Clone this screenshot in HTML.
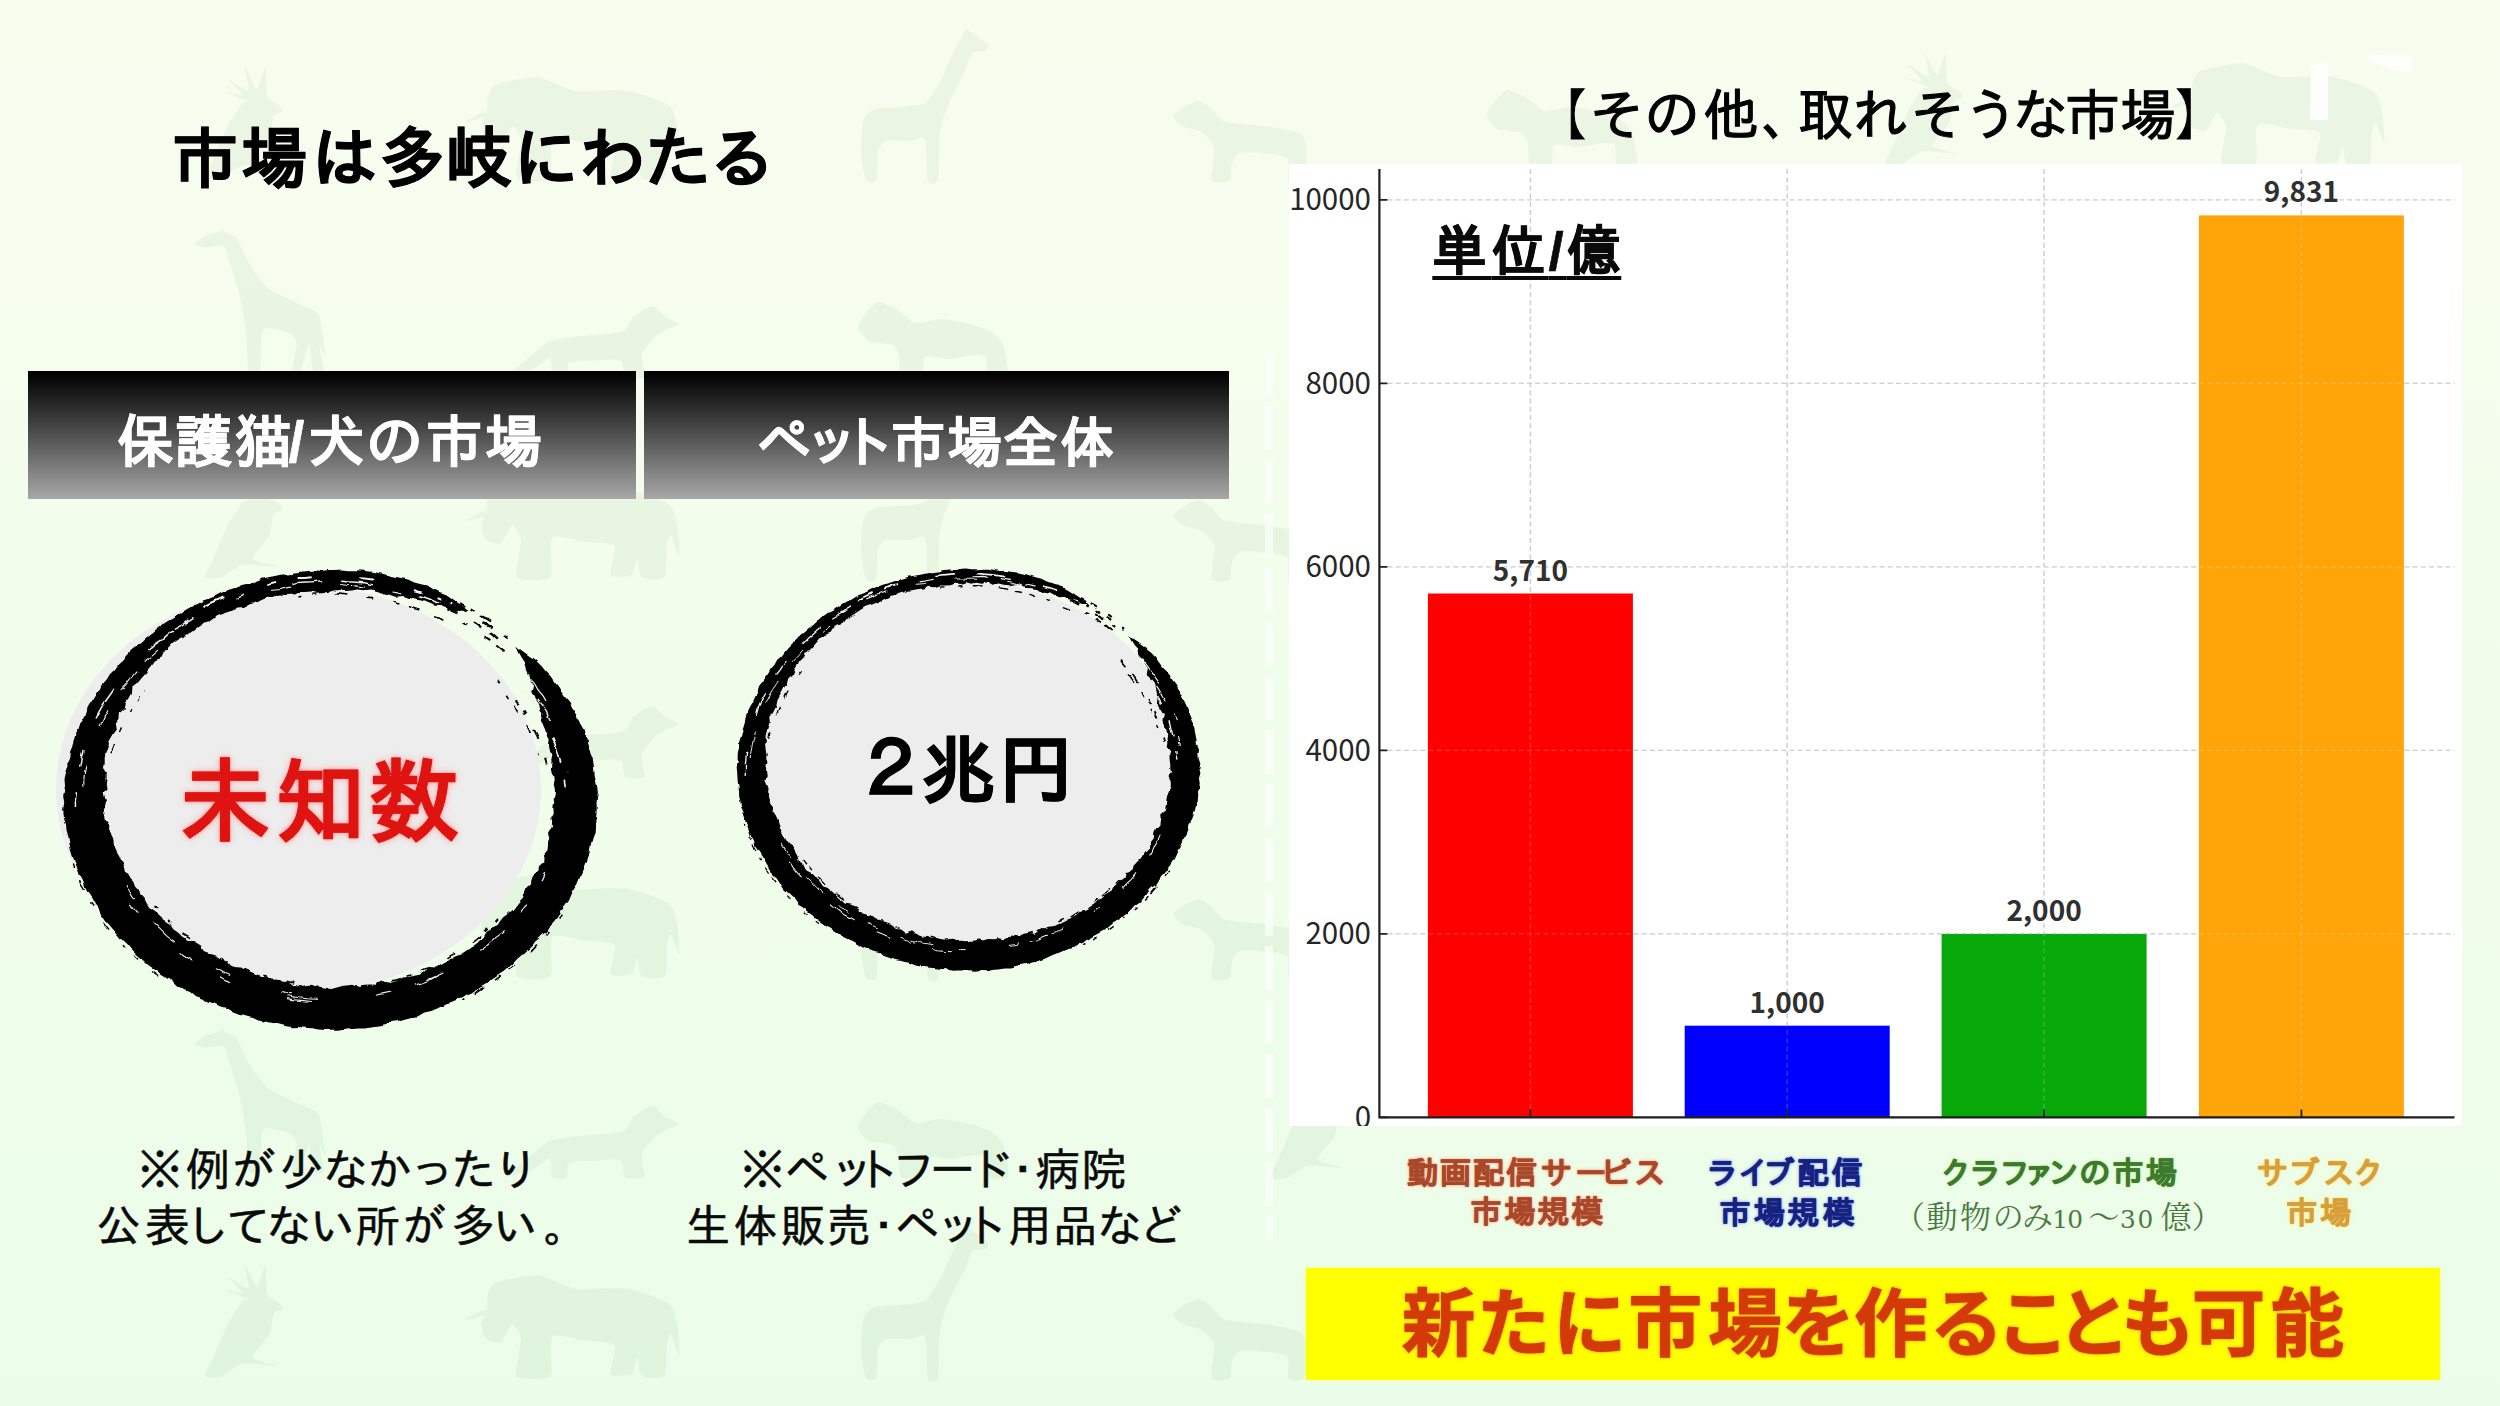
<!DOCTYPE html>
<html lang="ja">
<head>
<meta charset="utf-8">
<title>市場は多岐にわたる</title>
<style>
*{margin:0;padding:0;box-sizing:border-box}
html,body{width:2500px;height:1406px;overflow:hidden}
body{position:relative;background:linear-gradient(180deg,#f8fdee 0%,#f6fdee 18%,#f1fdeb 50%,#edfde9 78%,#ebfde8 100%);font-family:"Liberation Sans","Noto Sans CJK JP",sans-serif;color:#000}
.abs{position:absolute;white-space:nowrap;line-height:1}
.g{font-family:"Liberation Sans","IPAGothic","Noto Sans CJK JP",sans-serif}
.n{font-family:"Liberation Sans","Noto Sans CJK JP",sans-serif}
.s{font-family:"Liberation Serif","Noto Serif CJK JP","Noto Serif CJK SC",serif}
.b{font-weight:bold}
.hbar{position:absolute;top:371px;height:128px;background:linear-gradient(180deg,#000 0%,#090909 7%,#474747 45%,#a8a8a8 100%)}
#hb1{left:28px;width:608px}
#hb2{left:644px;width:585px}
.fill{position:absolute;border-radius:50%;background:#ededed}
#chart{position:absolute;left:1289px;top:164px;width:1173px;height:962px;background:#fff;overflow:hidden}
#chart svg{position:absolute;left:0;top:0}
#banner{position:absolute;left:1306px;top:1268px;width:1134px;height:112px;background:#ffff00;box-shadow:0 0 3px #ffff66}
#bgsvg,#ringsvg{position:absolute;left:0;top:0}
</style>
</head>
<body>
<svg id="bgsvg" width="2500" height="1406" viewBox="0 0 2500 1406">
<defs>
<path id="a-ele" d="M31.2 -95.4C36.5 -97.5 64.3 -103.3 72.8 -102.7C81.2 -102.0 100.7 -90.6 110.2 -89.2C119.7 -87.7 152.2 -90.7 162.2 -89.2C172.2 -87.6 198.5 -78.4 203.8 -74.6C209.1 -70.8 211.0 -59.3 212.1 -53.8C213.2 -48.3 214.9 -23.7 214.2 -22.6C213.5 -21.5 207.2 -42.3 205.9 -43.4C204.5 -44.5 202.4 -37.4 201.7 -33.0C201.1 -28.6 202.3 -5.1 199.6 -1.8C197.0 1.5 179.6 0.2 176.8 -1.8C173.9 -3.8 173.7 -20.3 172.6 -20.5C171.5 -20.7 169.2 -5.7 166.4 -3.9C163.5 -2.1 147.3 -0.8 145.6 -3.9C143.8 -7.0 152.4 -29.5 149.7 -33.0C147.1 -36.6 127.3 -36.3 120.6 -37.2C113.9 -38.0 91.1 -45.1 87.3 -41.3C83.5 -37.5 89.0 -6.0 85.2 -1.8C81.5 2.4 55.1 2.2 52.0 -1.8C48.9 -5.8 56.6 -33.7 56.1 -39.2C55.7 -44.8 49.4 -53.1 47.8 -53.8C46.2 -54.5 42.9 -47.5 41.6 -45.5C40.2 -43.5 37.5 -35.7 35.3 -35.1C33.1 -34.4 22.8 -37.2 20.8 -39.2C18.8 -41.2 16.6 -50.7 16.6 -53.8C16.6 -56.9 22.5 -67.9 20.8 -68.4C19.0 -68.8 -0.0 -58.4 -0.0 -58.0C-0.0 -57.5 18.3 -61.5 20.8 -64.2C23.2 -66.9 21.7 -79.6 22.8 -82.9C23.9 -86.2 25.8 -93.3 31.2 -95.4Z"/>
<path id="a-bird" d="M43.6 -78.8C41.4 -80.1 17.3 -88.5 16.6 -89.2C15.9 -89.8 36.7 -83.7 37.4 -85.0C38.1 -86.3 22.2 -101.2 22.8 -101.6C23.5 -102.1 41.9 -87.8 43.6 -89.2C45.4 -90.5 38.6 -113.9 39.5 -114.1C40.4 -114.3 49.7 -91.5 52.0 -91.2C54.2 -91.0 59.2 -112.9 60.3 -112.0C61.4 -111.2 60.8 -86.9 62.4 -82.9C63.9 -78.9 73.3 -76.2 74.8 -74.6C76.4 -73.0 77.6 -69.5 76.9 -68.4C76.3 -67.3 69.9 -66.9 68.6 -64.2C67.3 -61.5 66.7 -48.1 64.4 -43.4C62.2 -38.7 46.9 -23.8 47.8 -20.5C48.7 -17.2 73.9 -12.9 72.8 -12.2C71.7 -11.5 43.4 -15.4 37.4 -14.3C31.4 -13.2 20.6 -3.1 16.6 -1.8C12.6 -0.5 0.8 0.2 -0.0 -1.8C-0.9 -3.8 5.8 -15.0 8.3 -20.5C10.7 -26.1 19.7 -47.8 22.8 -53.8C25.9 -59.8 35.2 -74.0 37.4 -76.7C39.6 -79.3 45.9 -77.4 43.6 -78.8Z"/>
<path id="a-girB" d="M0.6 -126.7C0.3 -127.9 8.3 -133.7 11.0 -135.0C13.6 -136.4 23.7 -138.3 25.5 -139.2C27.3 -140.1 27.0 -143.4 27.6 -143.4C28.2 -143.4 29.2 -140.3 30.7 -139.2C32.3 -138.1 39.6 -136.3 42.2 -133.0C44.7 -129.6 51.3 -113.3 54.6 -108.0C58.0 -102.7 68.7 -87.0 73.4 -83.0C78.0 -79.0 93.0 -73.2 98.3 -70.6C103.6 -67.9 120.2 -61.0 123.3 -58.1C126.4 -55.2 126.6 -48.2 127.4 -43.5C128.3 -38.9 131.8 -16.2 131.6 -14.4C131.4 -12.6 125.6 -28.4 125.4 -26.9C125.1 -25.3 130.2 -2.7 129.5 0.2C128.9 3.0 120.7 3.0 119.1 0.2C117.6 -2.7 116.3 -26.9 115.0 -26.9C113.6 -26.9 108.4 -2.7 106.6 0.2C104.9 3.0 98.8 3.0 98.3 0.2C97.9 -2.7 102.7 -22.9 102.5 -26.9C102.3 -30.9 99.8 -35.7 96.2 -37.3C92.7 -38.8 72.4 -45.4 69.2 -41.4C66.0 -37.4 67.6 -4.3 66.1 0.2C64.5 4.6 56.1 3.9 54.6 0.2C53.2 -3.6 53.4 -27.4 52.6 -35.2C51.7 -43.0 48.1 -64.9 46.3 -72.6C44.5 -80.4 37.7 -102.5 35.9 -108.0C34.1 -113.5 32.1 -123.0 29.7 -124.6C27.2 -126.3 16.1 -123.4 13.0 -123.6C9.9 -123.8 0.8 -125.5 0.6 -126.7Z"/>
<path id="a-dog" d="M175.2 -52.9C175.0 -54.2 163.3 -58.3 160.6 -60.2C158.0 -62.0 152.2 -69.7 150.2 -70.6C148.2 -71.4 144.1 -69.6 141.9 -68.5C139.7 -67.4 131.9 -62.6 129.4 -60.2C127.0 -57.7 124.1 -47.6 119.0 -45.6C113.9 -43.6 88.9 -42.3 81.6 -41.4C74.3 -40.6 55.1 -38.4 50.4 -37.3C45.7 -36.2 41.2 -33.5 37.9 -31.0C34.6 -28.6 23.2 -17.7 19.2 -14.4C15.2 -11.1 -0.6 -0.5 0.5 0.2C1.6 0.8 24.7 -6.2 29.6 -8.2C34.5 -10.2 44.2 -19.4 46.2 -18.6C48.2 -17.7 46.5 -1.8 48.3 0.2C50.1 2.2 61.1 1.7 62.9 0.2C64.7 -1.4 61.9 -12.6 65.0 -14.4C68.1 -16.2 86.5 -16.3 92.0 -16.5C97.5 -16.7 113.9 -18.3 117.0 -16.5C120.1 -14.7 118.7 -1.6 121.1 0.2C123.6 1.9 138.1 2.6 139.8 0.2C141.6 -2.3 136.6 -18.5 137.8 -22.7C138.9 -26.9 147.6 -36.7 150.2 -39.4C152.9 -42.0 160.1 -46.2 162.7 -47.7C165.4 -49.1 175.4 -51.5 175.2 -52.9Z"/>
<path id="a-lion" d="M0.0 -50.0C-0.2 -53.0 6.0 -61.3 8.0 -64.0C10.0 -66.7 16.8 -74.1 19.0 -75.0C21.2 -75.9 26.9 -72.7 29.0 -72.0C31.1 -71.3 36.0 -69.9 39.0 -68.0C42.0 -66.1 52.4 -55.1 57.0 -54.0C61.6 -52.9 76.7 -58.0 82.0 -58.0C87.3 -58.0 101.7 -55.3 107.0 -54.0C112.3 -52.7 127.9 -48.3 132.0 -46.0C136.1 -43.7 143.1 -36.9 145.0 -32.0C146.9 -27.1 151.6 -3.4 150.0 0.0C148.4 3.4 132.3 2.1 130.0 0.0C127.7 -2.1 129.4 -17.7 128.0 -20.0C126.6 -22.3 120.8 -22.2 117.0 -22.0C113.2 -21.8 97.3 -18.2 92.0 -18.0C86.7 -17.8 70.0 -21.9 67.0 -20.0C64.0 -18.1 66.6 -2.1 64.0 0.0C61.4 2.1 45.5 2.3 43.0 0.0C40.5 -2.3 41.9 -18.6 41.0 -22.0C40.1 -25.4 37.0 -30.7 35.0 -32.0C33.0 -33.3 24.7 -33.6 22.0 -34.0C19.3 -34.4 12.3 -34.3 10.0 -36.0C7.7 -37.7 0.2 -47.0 0.0 -50.0Z"/>
<path id="a-hy" d="M0.3 -63.6C0.6 -65.8 10.4 -72.2 13.1 -73.9C15.8 -75.5 23.2 -79.3 25.9 -79.0C28.6 -78.7 36.0 -73.5 38.7 -71.3C41.4 -69.1 45.5 -60.4 51.5 -58.5C57.5 -56.6 86.8 -54.7 95.0 -53.4C103.2 -52.0 124.2 -48.4 128.3 -45.7C132.4 -43.0 133.2 -32.7 133.4 -27.8C133.7 -22.9 132.8 -2.6 130.9 0.4C129.0 3.4 117.4 2.8 115.5 0.4C113.6 -2.1 117.9 -19.7 112.9 -22.7C108.0 -25.7 75.2 -28.3 69.4 -27.8C63.7 -27.2 60.6 -20.5 59.2 -17.5C57.8 -14.5 58.8 -1.5 56.6 0.4C54.4 2.3 40.3 3.9 38.7 0.4C37.1 -3.2 42.4 -27.7 41.3 -32.9C40.2 -38.1 31.7 -46.1 28.5 -48.3C25.2 -50.4 13.5 -51.7 10.5 -53.4C7.5 -55.0 0.0 -61.4 0.3 -63.6Z"/>
<path id="a-girA" d="M127.0 -135.0C125.9 -136.7 116.3 -143.3 114.0 -145.0C111.7 -146.7 106.4 -151.2 105.0 -151.0C103.6 -150.8 102.2 -145.1 101.0 -143.0C99.8 -140.9 96.3 -135.7 94.0 -131.0C91.7 -126.3 82.2 -104.8 79.0 -99.0C75.8 -93.2 68.3 -79.8 64.0 -77.0C59.7 -74.2 44.3 -73.6 39.0 -73.0C33.7 -72.4 17.8 -72.3 14.0 -71.0C10.2 -69.7 4.5 -65.5 3.0 -61.0C1.5 -56.5 -0.2 -35.5 0.0 -29.0C0.2 -22.5 3.4 -3.1 5.0 0.0C6.6 3.1 13.7 3.1 15.0 0.0C16.3 -3.1 15.9 -24.8 17.0 -29.0C18.1 -33.2 21.6 -37.9 25.0 -39.0C28.4 -40.1 44.8 -38.8 49.0 -39.0C53.2 -39.2 62.1 -45.2 64.0 -41.0C65.9 -36.8 65.6 -4.4 67.0 0.0C68.4 4.4 75.7 5.2 77.0 0.0C78.3 -5.2 77.7 -40.6 79.0 -49.0C80.3 -57.4 86.3 -72.6 89.0 -79.0C91.7 -85.4 101.7 -103.9 104.0 -109.0C106.3 -114.1 108.9 -124.9 111.0 -127.0C113.1 -129.1 122.3 -128.1 124.0 -129.0C125.7 -129.9 128.1 -133.3 127.0 -135.0Z"/>
</defs>
<g fill="#5a8a5a" fill-opacity="0.07">
<use href="#a-bird" x="205" y="180"/>
<use href="#a-ele" x="465" y="180"/>
<use href="#a-girA" x="861" y="180"/>
<use href="#a-hy" x="1173" y="180"/>
<use href="#a-bird" x="205" y="579"/>
<use href="#a-ele" x="465" y="579"/>
<use href="#a-girA" x="861" y="579"/>
<use href="#a-hy" x="1173" y="579"/>
<use href="#a-bird" x="205" y="978"/>
<use href="#a-ele" x="465" y="978"/>
<use href="#a-girA" x="861" y="978"/>
<use href="#a-hy" x="1173" y="978"/>
<use href="#a-bird" x="205" y="1378"/>
<use href="#a-ele" x="465" y="1378"/>
<use href="#a-girA" x="861" y="1378"/>
<use href="#a-hy" x="1173" y="1378"/>
<use href="#a-girB" x="194" y="371"/>
<use href="#a-dog" x="504" y="377"/>
<use href="#a-lion" x="858" y="377"/>
<use href="#a-girB" x="194" y="771"/>
<use href="#a-dog" x="504" y="777"/>
<use href="#a-lion" x="858" y="777"/>
<use href="#a-girB" x="194" y="1171"/>
<use href="#a-dog" x="504" y="1177"/>
<use href="#a-lion" x="858" y="1177"/>
<use href="#a-lion" x="1487" y="165"/>
<use href="#a-bird" x="1885" y="166"/>
<use href="#a-ele" x="2170" y="166"/>
<use href="#a-bird" x="1270" y="1180"/>
</g>
<path d="M1269 352V1240" stroke="#fbfffb" stroke-opacity="0.7" stroke-width="8" stroke-dasharray="44 10" fill="none"/>
<path d="M2311 66l17-4v58h-18zM2368 55h44v17h-12l-32-12z" fill="#ffffff" fill-opacity="0.85"/>
</svg><div id="hb1" class="hbar"><div id="h1" class="abs g b" style="left:89.3px;top:42.5px;font-size:57px;color:#fff;-webkit-text-stroke:0.6px #fff"><span style="letter-spacing:1.0px">保</span><span style="letter-spacing:2.2px">護</span><span style="letter-spacing:-3.1px">猫</span><span style="letter-spacing:3.5px">/</span><span style="letter-spacing:1.1px">犬</span><span style="letter-spacing:2.7px">の</span><span style="letter-spacing:2.4px">市</span>場</div></div>
<div id="hb2" class="hbar"><div id="h2" class="abs g b" style="left:112.8px;top:45.1px;font-size:55px;color:#fff;-webkit-text-stroke:0.6px #fff"><span style="letter-spacing:-7.2px">ペ</span><span style="letter-spacing:-19.0px">ッ</span><span style="letter-spacing:-5.2px">ト</span><span style="letter-spacing:1.7px">市</span><span style="letter-spacing:0.5px">場</span><span style="letter-spacing:2.2px">全</span>体</div></div>

<svg id="ringsvg" width="2500" height="1406" viewBox="0 0 2500 1406">
<defs><filter id="rough" x="-5%" y="-5%" width="110%" height="110%" filterUnits="objectBoundingBox"><feTurbulence type="fractalNoise" baseFrequency="0.09 0.09" numOctaves="2" seed="3" result="n"/><feDisplacementMap in="SourceGraphic" in2="n" scale="5" xChannelSelector="R" yChannelSelector="G"/></filter></defs>
<ellipse cx="298.5" cy="789" rx="242.5" ry="204" fill="#ededed"/>
<g filter="url(#rough)"><path d="M516.3 645.7L521.2 650.0L526.6 653.9L532.3 657.7L537.3 662.0L541.9 666.6L545.9 671.6L550.6 676.2L554.1 681.5L558.2 686.5L561.4 691.9L565.1 697.1L569.4 702.0L572.4 707.5L575.6 712.9L577.8 718.7L580.6 724.2L583.7 729.7L585.0 735.6L587.6 741.2L589.2 747.0L590.3 752.9L592.6 758.5L593.5 764.4L594.3 770.2L594.8 776.0L596.4 781.7L597.3 787.4L597.9 793.0L596.9 798.6L596.6 803.8L596.7 809.4L596.4 815.1L595.4 820.8L595.1 826.6L594.8 832.4L592.6 838.1L591.0 843.8L590.1 849.7L588.9 855.6L586.8 861.3L584.8 867.0L582.4 872.7L579.6 878.2L577.4 883.9L573.9 889.2L570.5 894.6L568.1 900.3L564.7 905.6L560.4 910.5L557.8 916.3L553.9 921.4L549.5 926.2L546.2 931.6L541.4 936.2L536.3 940.5L532.3 945.6L527.5 950.1L522.4 954.4L517.5 958.8L513.0 963.6L508.2 968.1L502.9 972.2L497.3 976.1L491.7 979.8L486.3 983.9L480.5 987.4L474.7 990.9L468.3 993.5L462.5 997.2L456.3 1000.1L449.8 1002.4L443.8 1005.7L437.7 1008.8L431.2 1010.9L424.4 1012.6L418.4 1015.9L411.5 1017.3L404.9 1019.1L398.3 1020.9L391.5 1022.0L385.1 1024.2L378.4 1025.6L371.6 1026.2L364.9 1027.4L358.1 1027.5L351.5 1028.1L344.9 1028.6L338.4 1029.7L332.0 1029.7L325.9 1030.1L319.4 1029.6L312.9 1028.3L306.3 1027.8L299.7 1027.1L292.8 1027.3L286.1 1026.3L279.5 1024.6L272.9 1023.0L266.2 1021.8L259.3 1020.9L253.0 1018.0L246.4 1016.3L239.5 1015.0L233.1 1012.5L227.1 1009.3L220.4 1007.5L214.3 1004.4L207.6 1002.4L202.0 998.4L195.3 996.3L190.0 992.0L183.6 989.4L177.6 986.1L172.7 981.6L166.7 978.3L161.1 974.5L156.1 970.1L150.3 966.6L145.1 962.3L140.1 958.0L135.1 953.6L130.6 948.9L126.3 944.0L121.6 939.4L117.4 934.5L113.2 929.5L109.1 924.5L104.6 919.8L101.2 914.4L98.4 908.8L94.4 903.7L91.5 898.2L87.8 893.0L85.1 887.4L83.2 881.6L80.3 876.1L78.5 870.3L75.9 864.8L73.7 859.1L71.8 853.4L70.2 847.6L69.1 841.8L68.2 836.0L66.5 830.3L66.0 824.5L64.1 818.9L63.5 813.2L63.2 807.5L64.2 802.0L63.2 796.8L64.2 791.2L65.0 785.6L64.5 779.8L65.6 774.1L67.5 768.5L67.3 762.5L69.2 756.8L70.3 751.0L72.8 745.4L74.4 739.6L75.7 733.7L78.8 728.3L80.4 722.4L84.1 717.2L85.9 711.3L88.7 705.7L92.2 700.4L95.7 695.1L99.7 690.1L102.3 684.4L106.7 679.5L110.0 674.1L114.8 669.6L118.3 664.2L123.3 659.8L127.2 654.6L131.8 650.0L137.1 645.8L142.1 641.5L146.8 636.9L152.3 632.9L157.1 628.4L162.5 624.4L168.3 620.8L174.4 617.6L179.9 613.7L185.6 610.1L191.4 606.6L197.8 604.0L203.5 600.3L210.3 598.3L216.4 595.4L222.5 592.3L228.9 589.7L235.5 587.8L241.8 585.1L248.5 583.5L255.0 581.2L261.4 578.9L268.1 577.3L274.9 576.0L281.5 574.5L288.4 574.4L295.0 572.6L301.7 571.7L308.4 570.9L315.0 570.5L321.6 571.1L328.0 569.9L334.1 569.9L340.6 569.5L347.2 570.3L353.9 570.3L360.7 570.5L367.5 571.3L374.3 572.0L381.0 573.4L387.8 574.9L394.5 576.5L401.2 578.1L408.0 579.6L414.3 582.5L421.0 584.3L427.9 585.8L433.8 589.4L440.3 591.9L446.6 594.6L452.2 598.6L457.7 602.7L463.4 606.2L468.8 610.2L468.4 610.7L459.4 612.1L452.7 610.4L446.4 608.3L440.3 606.0L433.3 605.4L427.3 602.9L421.3 600.6L414.7 599.6L408.6 597.5L402.3 596.0L395.4 596.7L389.3 594.7L383.2 593.1L377.1 591.1L371.0 589.5L364.4 590.3L358.2 589.6L351.9 590.4L345.7 590.9L339.7 590.0L333.8 590.5L328.2 592.3L322.4 592.3L316.4 592.7L310.3 591.4L304.2 592.1L297.9 592.1L292.1 594.8L285.9 595.1L279.3 594.5L273.5 597.0L266.8 596.7L261.1 599.3L255.4 602.2L249.4 604.1L243.9 607.0L237.3 607.6L231.9 610.9L225.9 612.9L219.9 614.9L214.3 617.7L209.4 621.6L202.8 622.8L197.6 626.2L192.8 630.1L188.1 634.1L182.7 637.2L177.4 640.3L172.5 644.0L168.4 648.4L163.2 651.7L160.7 657.5L154.9 660.4L151.6 665.3L147.7 669.7L144.7 674.6L140.9 679.0L137.2 683.4L132.4 687.3L132.0 693.5L129.3 698.4L125.9 702.9L124.8 708.5L120.1 712.4L119.4 718.0L115.8 722.4L116.8 728.4L113.6 733.0L111.0 737.7L107.8 742.3L107.6 747.6L105.4 752.5L104.7 757.6L104.7 762.9L104.0 767.9L106.4 773.3L104.3 778.0L105.5 783.1L106.6 788.0L103.7 792.6L104.8 797.3L106.4 801.7L104.8 806.4L103.8 811.2L105.2 815.9L106.2 820.7L109.3 825.3L109.0 830.3L112.0 834.8L113.4 839.6L113.8 844.6L116.3 849.1L117.9 853.9L120.3 858.4L123.0 862.9L125.0 867.5L126.1 872.6L129.3 876.8L133.3 880.7L135.0 885.6L138.6 889.6L140.5 894.4L144.3 898.3L146.5 903.1L149.6 907.4L154.5 910.6L159.0 913.9L163.0 917.6L165.6 922.3L170.5 925.2L173.6 929.6L178.3 932.7L182.0 936.6L186.9 939.4L192.4 941.5L197.2 944.3L201.7 947.4L204.5 952.6L210.5 953.9L216.1 955.6L220.6 958.8L226.1 960.4L229.6 965.4L235.1 966.9L241.1 967.6L245.9 970.3L251.2 972.1L256.4 974.2L261.7 976.0L267.4 976.6L272.3 979.6L278.0 979.8L283.3 981.7L288.9 981.9L293.9 985.4L299.4 986.2L305.1 985.5L310.8 984.4L316.0 986.4L321.4 987.0L326.6 988.6L331.7 988.9L336.9 987.6L342.2 986.0L347.5 985.5L352.9 984.8L358.8 987.1L364.1 984.7L369.7 984.6L375.5 984.8L380.7 982.1L386.1 980.8L392.5 982.2L398.0 980.5L403.0 977.6L408.9 977.0L414.5 975.6L420.3 974.5L425.0 971.0L429.2 967.0L436.1 967.4L440.9 964.4L446.0 961.8L450.3 958.1L456.0 956.3L461.4 954.0L466.1 950.8L470.7 947.5L475.7 944.7L479.0 940.1L483.7 936.9L486.6 932.1L490.8 928.5L496.9 926.4L499.7 921.7L502.9 917.4L507.7 914.1L512.2 910.6L515.4 906.3L518.7 902.0L522.7 898.1L524.9 893.2L526.7 888.2L530.9 884.4L531.4 878.9L534.2 874.5L538.5 870.5L539.0 865.3L543.2 861.2L543.6 856.0L547.2 851.7L547.9 846.6L548.1 841.6L549.9 836.8L549.0 831.7L551.8 827.1L552.1 822.2L551.2 817.3L553.7 812.7L553.4 807.9L554.2 803.3L553.6 798.9L554.6 794.2L555.0 789.5L553.7 784.7L554.7 779.8L554.1 774.9L551.9 770.2L552.3 765.1L550.2 760.3L551.3 755.0L549.9 750.0L549.0 744.9L549.6 739.4L547.8 734.4L544.7 729.8L542.7 724.9L540.7 719.9L542.3 713.4L539.9 708.3L538.8 702.7L535.5 698.0L532.3 693.3L534.1 685.7L530.6 680.9L529.6 674.5L526.9 669.0L525.2 662.7L521.7 657.6L518.7 652.0L516.3 645.7Z" fill="#050505"/><path d="M202.5 607.0L210.4 602.9L218.6 599.3L227.0 596.2L235.2 592.8L244.0 590.6L252.5 587.7L261.1 585.4L269.8 583.4L278.5 581.6L287.2 579.9L295.8 578.1L304.7 577.9L313.3 577.2L321.8 576.5L330.0 576.4L338.2 576.7L346.8 576.5L355.3 577.9L364.1 578.4L372.9 579.4L381.6 581.2L390.2 583.5L399.0 585.0L407.5 587.9L415.9 590.7L424.6 593.2L433.0 596.2L441.2 599.7L449.3 603.5L457.2 607.5" fill="none" stroke="#f1f3ee" stroke-width="2.0" stroke-dasharray="24 44 10 21 15 48 16 40 8 17 15 45 26 45 16 38 20 35" stroke-linecap="butt"/><path d="M174.9 628.3L182.7 624.2L189.6 619.1L197.6 615.5L205.3 611.4L212.6 606.8L220.9 603.6L229.2 600.6L237.4 597.7L245.5 594.3L253.8 591.6L262.3 589.2L271.0 587.9L279.4 585.4L288.0 584.3L296.5 582.6L305.1 582.0L313.6 581.8L322.0 580.5L330.0 581.1L338.0 580.9L346.4 581.7L354.9 582.2L363.5 582.7L371.9 584.6L380.6 585.7L389.2 587.0L397.8 589.0L406.1 591.8L414.5 594.3L422.9 597.0L431.2 600.0L439.2 603.5" fill="none" stroke="#eeeeee" stroke-width="1.4" stroke-dasharray="16 53 8 49 30 20 32 47 31 27 18 32 34 41 17 34 15 16" stroke-linecap="butt"/><path d="M271.7 590.5L280.3 589.5L288.6 587.4L297.2 586.9L305.5 585.2L313.8 584.6L322.1 584.4L330.0 583.9L337.9 584.3L346.1 585.3L354.5 585.9L362.9 586.8L371.3 587.8L379.7 589.6L388.1 591.3L396.5 592.9L404.8 595.4L413.3 597.2L421.2 600.7" fill="none" stroke="#eeeeee" stroke-width="1.1" stroke-dasharray="20 49 25 27 9 57 11 36 17 28 27 59 15 44 16 40 18 22" stroke-linecap="butt"/><path d="M75.5 807.2L75.3 800.3L76.3 793.4L76.3 786.3L76.8 779.0L78.7 771.7L80.3 764.4L81.4 757.0L83.1 749.6L85.5 742.3L88.1 735.0L91.3 727.9L94.3 720.7L98.0 713.7L101.9 706.7L106.4 700.0L111.1 693.5L115.7 686.8L120.3 680.2L125.5 673.8L131.1 667.7L136.7 661.6L142.6 655.7L148.6 649.8L155.1 644.4L162.3 639.6L168.5 633.9L175.8 629.3L183.1 624.7L190.6 620.4L197.7 615.6" fill="none" stroke="#eef0ec" stroke-width="1.5" stroke-dasharray="15 25 18 35 33 53 31 15 9 47 31 36 23 14 18 57 29 53" stroke-linecap="butt"/><path d="M83.9 786.7L83.8 779.6L84.7 772.4L86.2 765.3L88.3 758.2L90.5 751.1L93.1 744.1L95.4 737.0L98.2 730.0L101.5 723.2L104.7 716.2L108.5 709.5L112.0 702.6L117.1 696.4L121.1 689.7L126.6 683.8L131.4 677.5L136.4 671.3L141.8 665.3L147.7 659.7L154.0 654.4L160.3 649.1L166.3 643.5L172.9 638.5" fill="none" stroke="#ededed" stroke-width="1.1" stroke-dasharray="22 41 18 24 24 14 16 35 33 44 31 36 14 25 33 46 16 15" stroke-linecap="butt"/><path d="M311.0 1001.5L303.2 1000.6L295.2 999.8L287.3 998.7L279.5 996.8L271.7 994.8L263.7 993.5L255.8 991.4L248.2 988.6L240.7 985.8L233.3 982.6L225.6 979.9L218.6 976.0L211.4 972.4L204.2 968.8L197.1 965.0L190.9 960.1L183.9 956.2L177.9 951.2L171.2 946.8L165.2 941.8L159.8 936.2L153.8 931.2L149.0 925.3L143.4 920.0L138.1 914.4L133.5 908.4L129.2 902.3" fill="none" stroke="#ededed" stroke-width="1.2" stroke-dasharray="25 58 12 32 14 59 12 16 10 32 31 55 27 60 32 29 13 57" stroke-linecap="butt"/><path d="M292.3 993.7L284.5 993.1L277.0 990.8L269.2 989.3L261.6 987.2L254.1 985.0L246.5 982.6L239.1 980.0L231.9 976.7L224.8 973.5L218.0 969.5L210.6 966.6L204.4 962.0L197.2 958.7L190.8 954.3L184.9 949.5L178.7 944.9L172.4 940.4L166.3 935.7L161.1 930.3L155.7 925.1L151.0 919.3L145.4 914.2L140.9 908.4L136.9 902.3L131.8 896.8L128.2 890.6L124.9 884.2L121.4 878.0L117.4 872.0L114.4 865.5" fill="none" stroke="#ededed" stroke-width="1.1" stroke-dasharray="10 56 15 48 31 30 15 58 24 26 27 29 15 14 28 56 24 57" stroke-linecap="butt"/><path d="M436.8 976.1L429.4 979.1L421.9 981.9L414.2 984.3L406.7 986.8L399.3 989.7L391.6 991.9L383.8 993.6L376.0 995.2L368.1 996.1L360.5 998.0L352.6 998.2L344.9 998.9L337.3 999.2L330.0 999.4L322.7 999.4L315.1 999.3L307.3 998.7L299.6 997.8L291.8 996.2L283.9 995.6L276.1 993.9L268.6 991.4L260.7 989.9L253.0 987.7" fill="none" stroke="#ededed" stroke-width="1.1" stroke-dasharray="9 39 16 59 31 59 15 18 11 37 26 35 14 33 24 45 27 53" stroke-linecap="butt"/><path d="M545.6 873.0L542.9 879.7L538.6 885.7L535.4 892.2L531.1 898.3L527.0 904.4L522.1 910.1L517.8 916.3L512.7 921.9L507.5 927.4L502.1 932.9L495.8 937.6L490.2 942.8L484.3 947.9L478.0 952.5L471.1 956.5L464.9 961.2L458.3 965.6L451.0 969.0L444.1 972.8L436.7 976.0L429.9 980.0L422.3 982.7L414.6 985.2L407.1 987.8L399.4 990.0" fill="none" stroke="#ededed" stroke-width="1.2" stroke-dasharray="9 28 11 23 33 41 32 31 31 35 15 50 33 19 23 43 14 31" stroke-linecap="butt"/><path d="M524.3 689.2L528.8 695.2L533.1 701.3L536.9 707.7L540.6 714.1L544.7 720.3L548.2 726.7L550.9 733.4L553.2 740.2L556.3 746.7L558.3 753.5L560.3 760.2L561.3 767.1L562.9 773.9L564.5 780.6L565.2 787.3" fill="none" stroke="#eef6e6" stroke-width="1.6" stroke-dasharray="18 39 25 18 12 46 19 27 16 58 16 40 17 33 30 60 17 23" stroke-linecap="butt"/><path d="M537.8 699.0L542.5 705.1L546.7 711.5L549.4 718.5L553.3 725.0L556.0 731.8L559.2 738.5L561.2 745.5L564.0 752.3L566.3 759.2L568.1 766.1L568.8 773.2" fill="none" stroke="#eef6e6" stroke-width="1.3" stroke-dasharray="25 56 10 43 18 37 12 27 22 57 11 37 29 58 13 20 33 59" stroke-linecap="butt"/><path d="M528.8 677.4L534.3 683.3L538.2 690.1L543.3 696.2L547.1 703.0L551.4 709.5L554.9 716.4L559.1 722.9L561.6 730.1L565.1 736.9L567.5 744.0" fill="none" stroke="#eef6e6" stroke-width="1.2" stroke-dasharray="30 52 13 24 18 38 18 20 14 47 31 16 23 49 9 53 11 42" stroke-linecap="butt"/><path d="M441.2 599.7L449.3 603.5L457.5 607.1L465.3 611.3L472.9 615.8L480.6 620.3L487.8 625.3L495.1 630.1L502.1 635.4L509.2 640.5" fill="none" stroke="#050505" stroke-width="3.0" stroke-dasharray="9 14 5 20 10 14 5 14 4 7 7 7 7 15 3 17 4 19"/><path d="M446.5 608.2L454.4 611.8L462.4 615.4L469.7 620.1L477.1 624.4L483.9 629.6L491.5 633.9L497.8 639.6" fill="none" stroke="#050505" stroke-width="2.4" stroke-dasharray="12 19 10 9 12 14 12 22 4 20 11 6 6 19 4 22 5 20"/><path d="M460.0 603.1L467.9 607.7L475.4 612.5L483.6 616.5L491.1 621.5L498.2 626.8" fill="none" stroke="#050505" stroke-width="2.2" stroke-dasharray="6 6 5 8 11 18 11 8 10 7 8 17 6 22 8 16 11 7"/><path d="M462.4 622.7L469.9 626.7L477.2 631.0L483.8 636.0L491.0 640.5L497.0 646.1L503.6 651.1" fill="none" stroke="#050505" stroke-width="2.0" stroke-dasharray="6 20 7 8 10 6 10 10 9 24 8 18 6 5 3 8 9 13"/><path d="M498.1 680.0L502.7 685.5L508.2 690.4L512.7 696.0L516.6 701.8L521.3 707.2L525.2 713.1L528.4 719.2L532.0 725.1L534.9 731.3L537.9 737.4L540.0 743.8L542.4 750.1L544.9 756.3L546.2 762.8L547.9 769.1" fill="none" stroke="#050505" stroke-width="2.0" stroke-dasharray="4 23 5 8 4 17 11 20 7 10 3 17 8 12 9 13 11 19"/><path d="M506.3 695.7L510.0 701.5L515.0 706.6L518.4 712.5L522.1 718.2L525.7 723.9L529.1 729.8L531.2 736.1L534.7 741.9L536.5 748.2L538.2 754.4" fill="none" stroke="#050505" stroke-width="1.6" stroke-dasharray="4 9 8 15 9 20 5 11 6 6 11 20 9 5 11 19 7 19"/><path d="M298.5 595.9L306.5 594.8L314.5 594.0L322.4 593.8L330.0 593.4L337.6 593.9L345.4 594.7L353.4 595.3L361.4 596.4L369.5 597.4L377.6 598.3L385.6 600.3L393.7 602.1L401.5 604.6L409.5 606.8L417.4 609.2L425.0 612.4L432.4 615.9L440.4 618.5L447.4 622.7" fill="none" stroke="#050505" stroke-width="1.6" stroke-dasharray="3 10 5 19 12 19 6 22 6 10 11 17 9 18 12 14 11 18"/><path d="M497.0 919.8L492.3 925.1L486.7 929.8L481.3 934.7L475.7 939.5L469.9 944.0L463.5 947.9L457.7 952.4L450.7 955.6L444.7 959.9L438.1 963.5L431.3 966.7L423.9 969.0L417.2 972.5L410.2 975.3L403.1 977.9L395.8 980.1L388.3 981.4L381.0 983.2L373.6 984.7L366.2 985.9L358.9 987.7L351.5 988.0L344.2 988.8L336.9 988.7L330.0 988.8L323.1 988.6L315.8 989.1L308.6 987.7L301.2 986.8L293.8 985.7" fill="none" stroke="#050505" stroke-width="1.6" stroke-dasharray="4 9 4 6 11 20 9 21 9 10 4 7 10 9 6 13 3 10"/><path d="M294.4 982.9L287.2 981.2L279.9 980.1L272.7 978.4L265.7 975.8L258.4 974.1L251.5 971.4L244.5 969.0L237.3 966.7L230.8 963.4L224.1 960.1L217.8 956.4L211.1 953.2L205.1 949.1L198.8 945.2L192.6 941.3L187.3 936.5L181.1 932.6L176.3 927.4L170.4 923.0L165.2 918.1L160.5 912.9L156.4 907.3L152.2 901.8L147.0 896.9L143.5 891.0" fill="none" stroke="#050505" stroke-width="1.6" stroke-dasharray="7 20 5 14 6 21 5 23 6 9 9 14 4 17 4 20 9 20"/><path d="M159.3 976.3L151.9 971.1L144.9 965.5L138.2 959.6L132.0 953.2L125.0 947.6L119.7 940.7L113.1 934.6L107.7 927.8L102.5 920.9L98.2 913.6L93.1 906.6L88.6 899.4L85.1 891.8L80.6 884.7L77.4 877.0L74.3 869.4L71.7 861.6" fill="none" stroke="#050505" stroke-width="1.4" stroke-dasharray="10 17 6 11 4 21 9 19 5 13 10 16 4 14 11 10 5 11"/><path d="M104.8 784.6L105.8 778.2L106.2 771.6L107.6 765.1L109.4 758.6L111.4 752.1L113.9 745.7L116.0 739.2L119.0 732.9L121.9 726.5L126.0 720.6L129.3 714.4L132.5 708.1L137.4 702.6L140.8 696.3L145.7 690.8" fill="none" stroke="#050505" stroke-width="1.4" stroke-dasharray="12 20 10 13 5 17 4 9 6 6 7 20 9 15 9 14 4 16"/><path d="M562.3 913.8L557.0 920.6L551.6 927.4L546.5 934.4L540.6 940.9L534.4 947.1L528.4 953.6L522.0 959.7L514.8 965.2L507.7 970.7L500.5 976.2L493.2 981.5L485.5 986.3L477.8 991.2L469.8 995.8L461.8 1000.2" fill="none" stroke="#050505" stroke-width="1.6" stroke-dasharray="6 17 4 13 10 19 9 10 7 14 9 13 9 23 5 17 10 12"/></g>
<ellipse cx="967" cy="766" rx="212" ry="184" fill="#ededed"/>
<g filter="url(#rough)" transform="translate(968 770.2) scale(0.8675 0.875) translate(-330 -800.3)"><path d="M516.1 645.8L520.9 650.2L526.6 653.9L532.1 657.8L536.6 662.5L541.8 666.6L546.3 671.4L549.8 676.7L553.6 681.8L558.1 686.5L562.5 691.4L565.5 696.9L569.4 702.0L572.8 707.3L575.2 713.0L578.0 718.6L580.7 724.2L583.1 729.8L584.5 735.7L586.8 741.4L589.4 747.0L591.1 752.7L591.8 758.7L593.0 764.5L593.9 770.3L596.3 775.9L595.6 781.8L596.0 787.5L597.8 793.0L596.8 798.6L597.9 803.9L596.2 809.4L597.1 815.1L596.5 820.8L594.6 826.5L594.0 832.3L593.4 838.2L592.1 844.0L590.5 849.8L588.6 855.5L585.5 861.0L584.4 866.9L582.3 872.6L578.9 878.0L577.3 883.9L574.4 889.4L570.6 894.6L568.1 900.3L565.1 905.8L561.4 911.0L557.5 916.1L553.0 920.9L549.5 926.2L545.9 931.5L540.7 935.8L537.2 941.1L532.0 945.4L528.0 950.5L522.4 954.4L518.1 959.3L513.4 964.0L508.0 968.0L502.7 972.0L496.9 975.6L491.8 979.9L486.3 983.8L480.1 986.8L474.2 990.2L468.0 993.2L462.7 997.5L456.3 1000.0L450.3 1003.3L443.7 1005.5L437.6 1008.4L430.8 1010.1L424.5 1012.8L418.3 1015.7L411.8 1017.9L404.9 1018.9L398.5 1021.6L391.7 1022.5L385.0 1024.1L378.4 1025.7L371.5 1025.9L364.8 1026.9L358.1 1027.6L351.5 1028.8L344.9 1028.5L338.4 1029.5L332.0 1029.0L325.9 1029.3L319.5 1029.2L312.8 1029.5L306.3 1027.7L299.6 1027.4L293.0 1026.6L286.2 1026.0L279.4 1025.3L272.6 1024.1L266.1 1022.0L259.5 1020.1L252.9 1018.4L246.1 1017.0L239.6 1014.8L233.1 1012.7L227.0 1009.4L220.4 1007.5L214.0 1004.9L207.6 1002.3L201.9 998.6L195.9 995.4L189.7 992.5L183.4 989.6L178.2 985.3L172.4 981.8L166.4 978.6L161.1 974.5L155.5 970.7L150.7 966.2L145.2 962.3L140.9 957.3L135.0 953.7L131.2 948.4L126.4 943.9L121.5 939.5L116.8 934.9L113.1 929.6L109.6 924.2L104.8 919.7L101.8 914.1L98.2 908.9L95.1 903.4L91.7 898.1L88.3 892.8L84.8 887.6L83.1 881.6L79.9 876.2L78.2 870.4L75.9 864.8L73.5 859.1L72.5 853.2L70.9 847.5L68.2 841.9L67.7 836.1L66.2 830.3L66.1 824.5L65.5 818.8L64.5 813.1L64.2 807.5L63.9 802.0L63.3 796.8L64.7 791.3L64.4 785.6L64.7 779.8L66.3 774.2L66.1 768.3L67.9 762.6L69.2 756.8L71.2 751.2L72.9 745.4L74.1 739.5L75.8 733.7L78.7 728.2L81.6 722.8L84.3 717.2L87.1 711.7L89.0 705.8L92.2 700.4L96.0 695.3L99.7 690.1L102.6 684.5L107.0 679.7L110.1 674.2L115.2 669.8L118.9 664.6L123.2 659.7L127.8 655.1L132.9 650.8L137.0 645.7L142.1 641.5L147.3 637.3L152.3 632.9L158.0 629.3L162.7 624.6L168.1 620.6L174.4 617.7L179.8 613.7L185.4 609.9L192.0 607.4L197.9 604.1L203.5 600.3L210.1 598.0L216.1 594.8L222.3 591.8L228.7 589.4L235.2 587.2L241.9 585.4L248.4 583.1L255.0 581.3L261.5 579.1L268.3 578.0L275.1 576.9L281.7 575.5L288.4 574.2L295.1 573.4L301.7 571.8L308.4 570.9L315.1 571.4L321.6 570.1L328.0 569.9L334.1 570.6L340.6 570.6L347.2 570.2L354.0 570.0L360.6 571.4L367.3 572.5L374.2 572.7L381.0 573.7L387.9 574.4L394.7 575.6L401.3 577.9L407.9 579.8L414.7 581.4L420.9 584.5L427.4 587.0L434.3 588.4L440.4 591.6L446.5 594.8L452.2 598.6L457.8 602.4L463.3 606.3L469.2 609.6L468.9 610.0L460.1 611.1L455.0 606.8L448.1 605.5L441.5 603.8L434.8 602.4L428.7 600.0L422.9 597.0L415.5 597.7L410.2 593.4L403.6 592.4L396.8 592.0L391.1 588.6L384.6 587.7L377.6 588.9L371.2 588.4L365.0 586.8L358.4 588.4L352.4 585.3L346.0 587.2L339.9 586.2L333.8 587.2L328.1 585.6L322.2 587.5L316.1 587.0L310.0 588.9L303.8 589.3L297.5 589.1L291.4 591.1L284.9 590.6L278.9 592.7L272.5 593.4L266.2 594.5L259.7 595.3L253.7 597.5L247.7 599.7L241.2 600.8L235.4 603.7L229.8 606.6L223.9 609.2L218.0 611.6L211.8 613.6L206.3 616.8L201.1 620.4L195.9 623.9L190.3 627.0L186.5 632.1L179.9 633.9L175.0 637.8L171.7 643.2L165.4 645.5L160.1 648.9L156.2 653.6L152.3 658.2L148.1 662.5L142.4 665.8L139.7 671.2L135.4 675.4L133.3 681.0L130.0 685.8L127.9 691.3L122.9 695.1L121.4 700.7L118.4 705.6L116.0 710.6L113.0 715.4L110.4 720.4L109.3 725.9L107.6 731.0L105.1 736.0L100.9 740.4L101.6 746.2L99.2 751.1L97.9 756.3L96.5 761.5L98.3 767.1L96.1 772.0L96.8 777.3L97.6 782.4L97.5 787.4L98.8 792.4L97.3 797.2L97.4 801.8L98.1 806.6L96.4 811.5L98.3 816.4L100.1 821.3L99.6 826.5L102.2 831.2L101.4 836.6L105.0 841.1L104.7 846.5L108.0 851.1L110.3 855.9L111.8 860.8L113.0 866.0L115.6 870.7L118.0 875.5L120.5 880.3L123.6 884.8L128.8 888.3L130.7 893.4L133.2 898.1L134.7 903.5L139.5 907.1L142.0 912.0L145.4 916.4L151.3 919.2L155.2 923.2L158.2 927.9L161.4 932.5L167.8 934.5L172.3 938.0L176.4 941.9L180.4 945.9L185.1 949.2L189.5 952.9L196.3 953.8L201.1 956.8L204.9 961.4L210.0 964.1L215.5 966.3L221.5 967.7L225.5 972.2L231.3 973.8L237.0 975.4L242.4 977.6L246.9 981.8L253.0 982.3L257.9 986.0L264.6 984.8L269.8 987.4L275.2 989.8L281.0 990.7L286.8 991.4L292.7 991.7L298.4 992.9L304.0 994.2L309.9 993.0L315.3 995.5L321.0 995.2L326.5 995.9L331.7 995.1L337.1 995.0L342.7 993.9L348.4 994.9L354.0 993.3L359.8 993.4L365.4 992.2L371.6 993.4L377.0 990.9L382.9 990.4L389.0 990.2L394.2 987.1L400.3 986.7L406.9 987.3L411.7 983.4L417.1 981.0L422.7 979.2L429.1 978.7L434.6 976.2L440.3 974.2L445.6 971.5L450.2 967.8L455.5 965.2L459.7 960.9L466.3 959.9L470.2 955.5L475.5 952.7L479.5 948.6L484.5 945.4L488.7 941.5L494.7 939.1L497.4 934.0L501.6 930.1L505.1 925.7L511.6 923.4L513.1 917.7L519.5 915.1L520.8 909.4L524.8 905.3L529.0 901.3L532.0 896.7L535.3 892.2L539.3 888.0L540.6 882.6L544.2 878.2L544.7 872.7L546.8 867.8L550.7 863.4L551.0 858.0L552.0 852.8L556.4 848.5L557.6 843.4L558.2 838.2L559.0 833.1L560.3 828.1L561.6 823.2L563.8 818.3L563.7 813.2L561.1 808.2L564.0 803.4L563.2 798.8L563.2 794.0L562.5 789.1L562.2 784.1L564.2 778.9L560.2 774.2L561.0 768.9L560.0 763.8L560.9 758.4L559.5 753.2L556.2 748.5L554.1 743.6L555.8 737.6L552.9 732.8L550.8 727.7L548.1 722.9L548.3 716.9L547.5 711.2L546.2 705.5L544.8 699.8L539.4 696.1L535.9 691.4L537.3 683.9L534.0 678.9L531.7 673.2L527.4 668.7L526.5 661.8L522.2 657.2L518.9 651.9L516.1 645.8Z" fill="#050505"/><path d="M202.2 606.5L210.0 602.3L218.1 598.5L226.4 595.0L235.0 592.2L243.3 588.8L252.2 587.1L260.8 584.6L269.5 582.4L278.3 580.8L287.0 579.0L295.7 577.5L304.5 576.7L313.2 575.9L321.8 576.0L330.0 575.6L338.2 575.2L346.8 576.3L355.5 576.8L364.2 577.9L373.0 579.2L381.8 580.3L390.4 582.6L399.1 584.7L407.9 586.9L416.4 589.6L424.9 592.4L433.5 595.2L441.6 599.0L450.2 602.0L458.1 606.2" fill="none" stroke="#f1f3ee" stroke-width="2.0" stroke-dasharray="20 14 17 43 24 25 33 45 17 44 23 39 18 60 25 46 28 59" stroke-linecap="butt"/><path d="M173.5 626.7L181.2 622.4L188.7 618.0L196.0 613.2L203.9 609.3L211.7 605.1L219.8 601.6L228.1 598.4L236.2 595.0L244.7 592.3L253.4 590.4L261.8 587.7L270.4 585.6L279.1 584.3L287.7 582.4L296.4 581.6L304.9 580.2L313.5 579.7L321.9 578.5L330.0 578.9L338.1 579.2L346.6 578.9L355.0 580.5L363.8 580.7L372.4 582.3L381.1 583.5L389.6 585.6L398.2 587.8L406.9 589.6L415.0 593.0L423.6 595.4L431.8 598.6L440.0 602.0" fill="none" stroke="#eeeeee" stroke-width="1.4" stroke-dasharray="18 27 25 40 15 47 16 15 14 16 12 49 18 55 27 16 34 57" stroke-linecap="butt"/><path d="M271.0 587.9L279.7 587.0L288.2 585.0L296.7 583.8L305.3 583.4L313.6 581.9L322.0 581.8L330.0 582.1L338.0 582.0L346.3 582.2L354.7 583.4L363.2 584.2L371.8 585.2L380.5 586.2L388.8 588.5L397.4 590.3L405.9 592.4L414.3 594.8L422.4 598.1" fill="none" stroke="#eeeeee" stroke-width="1.1" stroke-dasharray="11 34 25 35 15 41 19 50 22 60 33 48 14 19 31 50 24 31" stroke-linecap="butt"/><path d="M73.2 807.3L73.5 800.3L73.5 793.4L74.1 786.1L74.9 778.8L76.2 771.4L77.0 763.9L78.8 756.5L81.7 749.3L84.0 741.9L86.7 734.6L88.7 727.1L92.1 719.9L95.9 712.9L100.0 705.9L104.3 699.1L108.3 692.1L113.5 685.6L118.0 678.8L123.3 672.4L129.4 666.5L135.0 660.4L141.1 654.5L147.1 648.6L153.7 643.1L160.1 637.5L167.1 632.4L174.5 627.8L181.8 623.1L188.7 618.0L196.4 613.7" fill="none" stroke="#eef0ec" stroke-width="1.5" stroke-dasharray="29 43 28 24 19 26 29 31 25 60 16 39 27 56 19 31 11 54" stroke-linecap="butt"/><path d="M79.0 786.4L79.8 779.2L81.5 772.0L82.8 764.8L84.8 757.6L86.4 750.3L89.2 743.2L91.1 735.8L94.2 728.8L97.9 721.9L100.8 714.7L104.8 708.0L109.4 701.4L113.7 694.8L117.9 688.0L122.7 681.5L128.0 675.4L133.8 669.5L139.1 663.3L144.8 657.4L151.4 652.2L157.6 646.7L164.4 641.7L171.1 636.7" fill="none" stroke="#ededed" stroke-width="1.1" stroke-dasharray="32 34 29 28 16 32 32 55 14 31 18 31 18 32 13 40 29 39" stroke-linecap="butt"/><path d="M310.5 1006.6L302.4 1006.1L294.3 1005.4L286.3 1003.5L278.2 1001.9L270.0 1000.7L261.9 998.9L254.1 996.1L246.2 993.5L238.4 990.7L230.9 987.3L223.1 984.3L215.7 980.7L207.9 977.6L200.9 973.3L194.0 968.9L186.6 965.2L179.9 960.6L173.8 955.3L167.6 950.2L160.7 945.7L155.2 940.0L149.0 934.9L144.0 928.8L138.6 923.1L133.1 917.4L128.3 911.3L124.3 904.8" fill="none" stroke="#ededed" stroke-width="1.2" stroke-dasharray="22 49 18 30 33 45 21 39 27 47 32 33 29 45 30 51 30 55" stroke-linecap="butt"/><path d="M291.2 999.9L283.2 998.8L275.2 997.3L267.4 995.2L259.6 993.0L251.7 991.0L243.9 988.4L236.2 985.8L229.0 982.1L221.7 978.6L214.1 975.6L206.8 972.1L199.8 968.1L193.1 963.7L186.3 959.4L180.3 954.3L173.2 950.3L167.3 945.1L161.1 940.2L155.8 934.5L150.4 929.0L144.5 923.8L139.3 918.1L134.9 911.9L130.4 905.8L126.3 899.5L121.3 893.7L117.5 887.3L114.0 880.8L110.7 874.3L107.7 867.6" fill="none" stroke="#ededed" stroke-width="1.1" stroke-dasharray="27 41 14 23 15 22 28 28 22 52 20 26 31 56 17 39 33 36" stroke-linecap="butt"/><path d="M439.8 981.1L432.4 984.7L424.4 986.9L416.8 989.9L409.2 993.0L401.2 995.2L393.3 997.4L385.4 999.6L377.2 1000.5L369.3 1002.2L361.3 1003.8L353.4 1005.0L345.4 1005.1L337.5 1005.6L330.0 1005.3L322.5 1005.3L314.6 1005.0L306.7 1004.8L298.6 1003.9L290.6 1002.6L282.6 1001.2L274.7 999.0L266.7 997.4L258.8 995.1L251.1 992.4" fill="none" stroke="#ededed" stroke-width="1.1" stroke-dasharray="15 39 12 49 8 52 30 52 10 26 27 18 20 36 33 41 30 28" stroke-linecap="butt"/><path d="M551.6 875.1L548.6 881.8L544.5 888.2L541.4 895.0L536.5 901.0L532.7 907.5L527.7 913.4L522.8 919.4L518.0 925.5L512.0 930.7L506.8 936.6L501.0 941.9L495.1 947.3L488.7 952.2L482.1 956.9L475.3 961.3L468.8 966.0L461.6 970.0L454.9 974.5L447.5 978.0L440.0 981.5L432.3 984.4L424.7 987.7L417.1 990.7L409.6 994.0L401.5 996.1" fill="none" stroke="#ededed" stroke-width="1.2" stroke-dasharray="26 25 23 35 8 60 29 24 24 27 18 39 16 30 18 45 15 23" stroke-linecap="butt"/><path d="M528.8 686.5L533.9 692.4L537.8 699.0L542.3 705.2L546.1 711.8L550.2 718.2L553.0 725.0L557.0 731.5L559.7 738.4L562.3 745.2L563.9 752.3L565.8 759.3L568.1 766.1L569.2 773.1L569.7 780.1L570.8 787.0" fill="none" stroke="#eef6e6" stroke-width="1.6" stroke-dasharray="10 24 12 20 19 17 32 34 21 44 28 52 18 29 19 15 18 46" stroke-linecap="butt"/><path d="M541.9 697.0L546.3 703.4L550.5 709.9L554.3 716.6L558.4 723.2L561.2 730.2L564.1 737.2L566.3 744.3L569.2 751.2L570.9 758.4L572.4 765.5L573.5 772.6" fill="none" stroke="#eef6e6" stroke-width="1.3" stroke-dasharray="29 42 12 49 31 39 17 37 12 47 34 38 27 52 13 57 24 23" stroke-linecap="butt"/><path d="M532.2 675.2L537.2 681.6L541.8 688.2L546.3 694.8L551.0 701.2L554.5 708.3L558.9 714.9L562.3 721.8L565.9 728.8L567.9 736.1L571.5 743.0" fill="none" stroke="#eef6e6" stroke-width="1.2" stroke-dasharray="32 39 23 40 15 56 34 52 24 20 29 27 31 25 23 52 13 39" stroke-linecap="butt"/><path d="M442.0 598.4L450.2 602.0L458.2 606.0L465.6 610.9L473.3 615.2L481.1 619.6L488.7 624.2L495.7 629.5L502.6 634.8L509.7 640.0" fill="none" stroke="#050505" stroke-width="3.0" stroke-dasharray="8 20 3 9 7 8 6 16 5 15 5 16 6 17 3 18 4 23"/><path d="M447.7 606.2L455.6 609.9L463.4 613.9L470.9 618.4L478.3 623.0L485.5 627.8L492.6 632.8L499.7 637.7" fill="none" stroke="#050505" stroke-width="2.4" stroke-dasharray="12 21 11 13 7 16 11 15 8 13 11 11 3 19 11 19 8 19"/><path d="M460.0 603.3L467.8 607.7L476.0 611.7L483.7 616.5L490.9 621.7L498.2 626.8" fill="none" stroke="#050505" stroke-width="2.2" stroke-dasharray="7 6 9 15 5 11 7 9 4 22 12 18 11 13 10 9 10 16"/><path d="M464.4 620.0L472.3 623.7L479.0 628.8L486.6 633.0L493.1 638.3L499.4 643.8L506.6 648.4" fill="none" stroke="#050505" stroke-width="2.0" stroke-dasharray="5 11 6 6 11 20 7 12 8 6 3 22 6 14 11 24 7 9"/><path d="M505.2 674.9L509.7 680.7L514.7 686.3L520.1 691.6L524.0 697.8L528.7 703.5L532.6 709.7L536.7 715.7L539.4 722.3L542.5 728.7L546.3 734.8L548.5 741.5L551.5 747.9L552.8 754.6L555.6 761.1L557.2 767.7" fill="none" stroke="#050505" stroke-width="2.0" stroke-dasharray="10 11 11 22 9 8 9 23 7 7 5 11 9 9 5 9 9 20"/><path d="M514.4 690.8L518.6 696.7L522.7 702.6L527.0 708.3L531.2 714.2L534.7 720.3L537.3 726.8L540.6 733.0L543.9 739.2L546.0 745.7L548.8 752.0" fill="none" stroke="#050505" stroke-width="1.6" stroke-dasharray="12 13 8 15 3 16 6 10 10 7 6 19 5 10 8 9 11 24"/><path d="M297.8 591.0L306.1 590.5L314.2 590.2L322.3 589.4L330.0 589.8L337.7 589.5L345.8 589.6L353.9 590.6L362.1 591.6L370.4 592.5L378.6 594.3L386.8 596.1L395.0 597.8L403.2 600.0L411.1 602.8L419.1 605.4L427.1 608.2L434.7 611.8L442.8 614.5L450.0 618.7" fill="none" stroke="#050505" stroke-width="1.6" stroke-dasharray="4 17 5 13 10 20 10 9 7 9 8 14 3 16 9 16 11 8"/><path d="M504.7 925.4L499.4 930.8L493.4 935.5L487.7 940.5L481.7 945.3L475.7 950.1L469.0 954.1L463.0 958.9L455.8 962.2L449.2 966.4L442.3 970.0L435.1 973.2L428.2 976.9L421.0 980.0L413.5 982.6L406.1 985.4L398.5 987.5L390.7 989.2L383.1 991.1L375.5 993.0L367.7 994.0L360.1 995.6L352.3 995.7L344.8 997.0L337.2 997.3L330.0 997.6L322.8 996.9L315.3 996.4L307.7 995.8L299.9 995.7L292.2 994.2" fill="none" stroke="#050505" stroke-width="1.6" stroke-dasharray="6 9 12 6 7 19 12 8 7 19 3 10 11 8 7 11 7 6"/><path d="M292.7 991.8L285.3 989.5L277.7 988.2L270.1 986.4L262.5 984.9L255.0 982.6L247.8 979.8L240.4 977.4L233.3 974.2L226.5 970.6L219.2 967.8L212.3 964.2L206.0 959.9L199.2 956.2L192.4 952.5L186.4 947.8L180.6 943.1L174.2 938.8L168.7 933.7L163.5 928.4L158.4 923.1L153.1 918.0L148.5 912.3L143.4 906.9L139.0 901.2L135.2 895.1" fill="none" stroke="#050505" stroke-width="1.6" stroke-dasharray="6 20 5 12 5 15 4 9 5 14 6 13 12 18 11 9 6 6"/><path d="M159.4 976.3L151.9 971.1L144.8 965.5L137.8 959.9L131.4 953.7L125.2 947.5L119.2 941.0L114.0 934.1L108.2 927.5L102.5 920.9L97.7 913.8L92.8 906.8L89.2 899.2L84.5 892.1L81.2 884.4L77.7 876.9L74.7 869.3L70.9 861.8" fill="none" stroke="#050505" stroke-width="1.4" stroke-dasharray="6 12 4 22 6 20 8 6 7 10 3 8 8 6 6 13 8 8"/><path d="M96.9 784.1L97.2 777.3L98.9 770.6L100.3 763.9L101.5 757.0L103.6 750.3L106.0 743.6L109.1 737.1L111.6 730.4L114.8 723.9L118.7 717.7L121.7 711.1L125.7 704.9L130.0 698.7L134.3 692.6L138.8 686.6" fill="none" stroke="#050505" stroke-width="1.4" stroke-dasharray="3 17 8 20 12 11 9 22 5 18 9 23 11 9 9 7 7 12"/><path d="M562.6 914.0L557.3 920.8L552.1 927.7L546.4 934.3L540.9 941.0L534.9 947.5L528.4 953.6L521.8 959.6L515.3 965.6L507.8 970.9L501.0 976.6L493.6 982.0L485.8 986.8L478.0 991.5L470.1 996.2L461.7 1000.1" fill="none" stroke="#050505" stroke-width="1.6" stroke-dasharray="9 16 9 5 7 12 4 13 3 14 8 14 6 10 3 12 11 16"/></g>
</svg>


<div id="chart">
<svg width="1173" height="962" viewBox="0 0 1173 962" font-family="Liberation Sans, Noto Sans CJK JP, sans-serif">
<path d="M90.4 769.9H1165.5M90.4 586.4H1165.5M90.4 402.9H1165.5M90.4 219.4H1165.5M90.4 35.9H1165.5M241.4 5V953.4M498.2 5V953.4M755.1 5V953.4M1012.4 5V953.4" stroke="#b0b0b0" stroke-opacity="0.75" stroke-width="1.4" stroke-dasharray="5 3.2" fill="none"/>
<rect x="138.9" y="429.5" width="205.0" height="523.9" fill="#fe0000"/>
<rect x="395.7" y="861.7" width="205.0" height="91.8" fill="#0000fe"/>
<rect x="652.6" y="769.9" width="205.0" height="183.5" fill="#06a80a"/>
<rect x="909.9" y="51.4" width="205.0" height="902.0" fill="#ffa50a"/>
<path d="M90.4 769.9H1165.5M90.4 586.4H1165.5M90.4 402.9H1165.5M90.4 219.4H1165.5M90.4 35.9H1165.5M241.4 5V953.4M498.2 5V953.4M755.1 5V953.4M1012.4 5V953.4" stroke="#ffffff" stroke-opacity="0.2" stroke-width="1.4" stroke-dasharray="5 3.2" fill="none"/>
<path d="M90.4 953.4h8M90.4 769.9h8M90.4 586.4h8M90.4 402.9h8M90.4 219.4h8M90.4 35.9h8M241.4 953.4v-8M498.2 953.4v-8M755.1 953.4v-8M1012.4 953.4v-8" stroke="#222" stroke-width="1.8" fill="none"/>
<path d="M90.4 5V953.4H1165.5" stroke="#1e1e1e" stroke-width="2.2" fill="none"/>
<text x="82" y="963.9" text-anchor="end" font-size="29.5" fill="#262626" font-family="Noto Sans CJK JP, Liberation Sans, sans-serif">0</text>
<text x="82" y="780.4" text-anchor="end" font-size="29.5" fill="#262626" font-family="Noto Sans CJK JP, Liberation Sans, sans-serif">2000</text>
<text x="82" y="596.9" text-anchor="end" font-size="29.5" fill="#262626" font-family="Noto Sans CJK JP, Liberation Sans, sans-serif">4000</text>
<text x="82" y="413.4" text-anchor="end" font-size="29.5" fill="#262626" font-family="Noto Sans CJK JP, Liberation Sans, sans-serif">6000</text>
<text x="82" y="229.9" text-anchor="end" font-size="29.5" fill="#262626" font-family="Noto Sans CJK JP, Liberation Sans, sans-serif">8000</text>
<text x="82" y="46.4" text-anchor="end" font-size="29.5" fill="#262626" font-family="Noto Sans CJK JP, Liberation Sans, sans-serif">10000</text>
<text x="241.4" y="416.5" text-anchor="middle" font-size="28" font-weight="bold" fill="#303030" font-family="Noto Sans CJK JP, Liberation Sans, sans-serif">5,710</text>
<text x="498.2" y="848.7" text-anchor="middle" font-size="28" font-weight="bold" fill="#303030" font-family="Noto Sans CJK JP, Liberation Sans, sans-serif">1,000</text>
<text x="755.1" y="756.9" text-anchor="middle" font-size="28" font-weight="bold" fill="#303030" font-family="Noto Sans CJK JP, Liberation Sans, sans-serif">2,000</text>
<text x="1012.4" y="38.4" text-anchor="middle" font-size="28" font-weight="bold" fill="#303030" font-family="Noto Sans CJK JP, Liberation Sans, sans-serif">9,831</text>
</svg>
</div>


<div id="banner"><div id="bt" class="abs n b" style="left:95.7px;top:19.6px;font-size:73.5px;color:#d43a08;-webkit-text-stroke:1.0px #d43a08;text-shadow:0 0 2px #ff8a1a,0 0 4px #ffb020"><span style="letter-spacing:1.6px">新</span><span style="letter-spacing:2.7px">た</span><span style="letter-spacing:2.1px">に</span><span style="letter-spacing:6.2px">市</span><span style="letter-spacing:-0.4px">場</span><span style="letter-spacing:-0.6px">を</span><span style="letter-spacing:1.9px">作</span><span style="letter-spacing:-7.3px">る</span><span style="letter-spacing:-12.6px">こ</span><span style="letter-spacing:-9.1px">と</span><span style="letter-spacing:-3.1px">も</span><span style="letter-spacing:5.7px">可</span>能</div></div>
<div id="title" class="abs g b" style="left:172.1px;top:126.0px;font-size:66.5px;color:#000;-webkit-text-stroke:0.8px #000"><span style="letter-spacing:2.3px">市</span><span style="letter-spacing:4.0px">場</span><span style="letter-spacing:2.1px">は</span><span style="letter-spacing:-0.5px">多</span><span style="letter-spacing:-0.1px">岐</span><span style="letter-spacing:0.6px">に</span><span style="letter-spacing:-1.4px">わ</span><span style="letter-spacing:-2.3px">た</span>る</div>
<div id="c1t" class="abs g b" style="left:180.6px;top:758.0px;font-size:90px;color:#df1410;-webkit-text-stroke:0.5px #df1410;text-shadow:0 0 3px #ff9d9d,0 0 6px #ffb3b3,0 0 9px #ffd0d0"><span style="letter-spacing:4.6px">未</span><span style="letter-spacing:4.1px">知</span>数</div>
<div id="c2t" class="abs g b" style="left:853.1px;top:732.8px;font-size:76px;color:#000;-webkit-text-stroke:0.8px #000"><span style="letter-spacing:-8.9px">２</span><span style="letter-spacing:2.0px">兆</span>円</div>
<div id="n1a" class="abs g" style="left:137.6px;top:1147.5px;font-size:45px;color:#0a0a0a;-webkit-text-stroke:0.5px #0a0a0a"><span style="letter-spacing:2.7px">※</span><span style="letter-spacing:0.4px">例</span><span style="letter-spacing:2.8px">が</span><span style="letter-spacing:-0.8px">少</span><span style="letter-spacing:-0.9px">な</span><span style="letter-spacing:-1.9px">か</span><span style="letter-spacing:-3.9px">っ</span><span style="letter-spacing:-2.4px">た</span>り</div>
<div id="n1b" class="abs g" style="left:96.0px;top:1203.6px;font-size:45px;color:#0a0a0a;-webkit-text-stroke:0.5px #0a0a0a"><span style="letter-spacing:3.8px">公</span><span style="letter-spacing:-5.3px">表</span><span style="letter-spacing:-3.6px">し</span><span style="letter-spacing:-4.9px">て</span><span style="letter-spacing:-0.8px">な</span><span style="letter-spacing:-0.2px">い</span><span style="letter-spacing:1.3px">所</span><span style="letter-spacing:4.9px">が</span><span style="letter-spacing:-3.4px">多</span><span style="letter-spacing:5.5px">い</span>。</div>
<div id="n2a" class="abs g" style="left:740.0px;top:1147.5px;font-size:45px;color:#0a0a0a;-webkit-text-stroke:0.5px #0a0a0a"><span style="letter-spacing:-0.2px">※</span>ペ<span style="letter-spacing:-19.6px">ッ</span><span style="letter-spacing:-8.8px">ト</span><span style="letter-spacing:-6.5px">フ</span><span style="letter-spacing:-6.9px">ー</span><span style="letter-spacing:-12.5px">ド</span><span style="letter-spacing:-10.2px">・</span><span style="letter-spacing:0.9px">病</span>院</div>
<div id="n2b" class="abs g" style="left:685.5px;top:1203.6px;font-size:45px;color:#0a0a0a;-webkit-text-stroke:0.5px #0a0a0a"><span style="letter-spacing:2.8px">生</span><span style="letter-spacing:2.4px">体</span><span style="letter-spacing:0.6px">販</span><span style="letter-spacing:-10.1px">売</span><span style="letter-spacing:-11.2px">・</span><span style="letter-spacing:-4.4px">ペ</span><span style="letter-spacing:-16.8px">ッ</span><span style="letter-spacing:-1.6px">ト</span><span style="letter-spacing:0.3px">用</span><span style="letter-spacing:-0.8px">品</span><span style="letter-spacing:-3.3px">な</span>ど</div>
<div id="rt" class="abs g" style="left:1531.9px;top:87.6px;font-size:56px;color:#000;-webkit-text-stroke:1.1px #000"><span style="letter-spacing:0.8px">【</span><span style="letter-spacing:-0.8px">そ</span><span style="letter-spacing:3.5px">の</span><span style="letter-spacing:2.2px">他</span><span style="letter-spacing:-20.0px">、</span><span style="letter-spacing:-1.2px">取</span><span style="letter-spacing:1.2px">れ</span><span style="letter-spacing:-2.1px">そ</span><span style="letter-spacing:-7.5px">う</span><span style="letter-spacing:-3.7px">な</span><span style="letter-spacing:-0.3px">市</span><span style="letter-spacing:-2.5px">場</span>】</div>
<div id="unit" class="abs g b" style="left:1432.3px;top:225.0px;font-size:54.5px;color:#0a0a0a;-webkit-text-stroke:0.6px #0a0a0a;text-decoration:underline;text-decoration-thickness:3.5px;text-underline-offset:6px;text-decoration-skip-ink:none"><span style="letter-spacing:4.8px">単</span><span style="letter-spacing:2.3px">位</span><span style="letter-spacing:3.2px">/</span>億</div>
<div id="l1a" class="abs g b" style="left:1406.8px;top:1157.7px;font-size:31.5px;color:#a8482a;-webkit-text-stroke:0.4px #a8482a;text-shadow:0 0 2px #ff7a50,0 0 4px #ffc7b0"><span style="letter-spacing:1.2px">動</span><span style="letter-spacing:1.8px">画</span><span style="letter-spacing:1.2px">配</span><span style="letter-spacing:3.4px">信</span><span style="letter-spacing:3.3px">サ</span><span style="letter-spacing:-6.9px">ー</span><span style="letter-spacing:2.6px">ビ</span>ス</div>
<div id="l1b" class="abs g b" style="left:1470.2px;top:1197.2px;font-size:31.5px;color:#a8482a;-webkit-text-stroke:0.4px #a8482a;text-shadow:0 0 2px #ff7a50,0 0 4px #ffc7b0"><span style="letter-spacing:2.3px">市</span><span style="letter-spacing:1.8px">場</span><span style="letter-spacing:2.3px">規</span>模</div>
<div id="l2a" class="abs g b" style="left:1706.3px;top:1158.2px;font-size:31.5px;color:#16227c;-webkit-text-stroke:0.4px #16227c;text-shadow:0 0 2px #3a5cff,0 0 4px #b0c0ff"><span style="letter-spacing:0.1px">ラ</span><span style="letter-spacing:-6.4px">イ</span><span style="letter-spacing:2.7px">ブ</span><span style="letter-spacing:2.3px">配</span>信</div>
<div id="l2b" class="abs g b" style="left:1719.2px;top:1198.3px;font-size:31.5px;color:#16227c;-webkit-text-stroke:0.4px #16227c;text-shadow:0 0 2px #3a5cff,0 0 4px #b0c0ff"><span style="letter-spacing:2.8px">市</span><span style="letter-spacing:2.3px">場</span><span style="letter-spacing:3.8px">規</span>模</div>
<div id="l3a" class="abs g b" style="left:1940.1px;top:1158.2px;font-size:31.5px;color:#3d7a2b;-webkit-text-stroke:0.4px #3d7a2b;text-shadow:0 0 2px #9fd67f,0 0 4px #d8f5c8"><span style="letter-spacing:-2.3px">ク</span><span style="letter-spacing:-1.9px">ラ</span><span style="letter-spacing:-7.1px">フ</span><span style="letter-spacing:-7.0px">ァ</span><span style="letter-spacing:-0.4px">ン</span><span style="letter-spacing:1.8px">の市</span>場</div>
<div id="l3b" class="abs s" style="left:1893.9px;top:1202.0px;font-size:31px;color:#4a7a40"><span style="letter-spacing:1.7px">（</span><span style="letter-spacing:2.3px">動</span><span style="letter-spacing:1.8px">物</span><span style="letter-spacing:-1.8px">の</span><span style="letter-spacing:-0.7px">み</span><span style="font-size:24.8px;letter-spacing:-0.7px;font-family:'DejaVu Serif','Liberation Serif',serif">1</span><span style="font-size:24.8px;letter-spacing:5.4px;font-family:'DejaVu Serif','Liberation Serif',serif">0</span><span style="letter-spacing:0.4px">〜</span><span style="font-size:24.8px;letter-spacing:1.9px;font-family:'DejaVu Serif','Liberation Serif',serif">3</span><span style="font-size:24.8px;letter-spacing:6.9px;font-family:'DejaVu Serif','Liberation Serif',serif">0</span><span style="letter-spacing:0.2px">億</span>）</div>
<div id="l4a" class="abs g b" style="left:2256.4px;top:1158.2px;font-size:31.5px;color:#d79f3c;-webkit-text-stroke:0.4px #d79f3c;text-shadow:0 0 2px #ffd24a,0 0 5px #fff3a0"><span style="letter-spacing:0.2px">サ</span><span style="letter-spacing:3.3px">ブ</span><span style="letter-spacing:-2.0px">ス</span>ク</div>
<div id="l4b" class="abs g b" style="left:2285.9px;top:1197.8px;font-size:31.5px;color:#d79f3c;-webkit-text-stroke:0.4px #d79f3c;text-shadow:0 0 2px #ffd24a,0 0 5px #fff3a0"><span style="letter-spacing:2.4px">市</span>場</div>
</body>
</html>
